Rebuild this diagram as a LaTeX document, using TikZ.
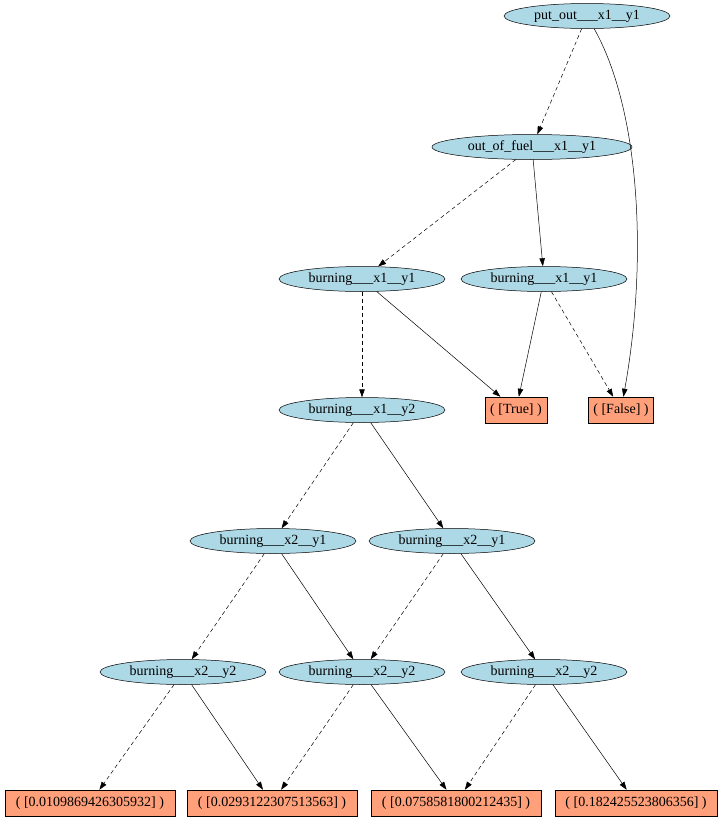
\documentclass[tikz,border=0pt]{standalone}
\usepackage{fontspec}
\setmainfont{Liberation Serif}
\usepackage{xcolor}
\definecolor{varfill}{HTML}{ADD8E6}
\definecolor{leaffill}{HTML}{FFA07A}
\usepackage{tikz}
\usetikzlibrary{shapes.geometric,arrows.meta}

\begin{document}
\begin{tikzpicture}[
  x=1pt, y=1pt,
  var/.style={
    ellipse, draw=black, fill=varfill, line width=0.5pt,
    font=\fontsize{14}{16}\selectfont, inner xsep=0pt, inner ysep=0pt,
    minimum width=166pt, minimum height=25pt
  },
  leaf/.style={
    rectangle, draw=black, fill=leaffill, line width=0.5pt,
    font=\fontsize{14}{16}\selectfont, inner xsep=5pt, inner ysep=0pt,
    minimum height=26pt
  },
  hi/.style={-{Triangle[length=8pt,width=5.5pt]}, black, line width=0.5pt},
  lo/.style={hi, dash pattern=on 4pt off 3pt}
]
\useasboundingbox (0,0) rectangle (720,-820);

% Variable nodes
\node[var] (po) at (587,-16) {put\_out\_\_\_x1\_\_y1};
\node[var, minimum width=200pt] (oof) at (532,-147) {out\_of\_fuel\_\_\_x1\_\_y1};
\node[var] (b11a) at (362,-279) {burning\_\_\_x1\_\_y1};
\node[var] (b11b) at (544,-279) {burning\_\_\_x1\_\_y1};
\node[var] (b12) at (362,-410) {burning\_\_\_x1\_\_y2};
\node[var] (b21a) at (273,-541) {burning\_\_\_x2\_\_y1};
\node[var] (b21b) at (452,-541) {burning\_\_\_x2\_\_y1};
\node[var] (b22a) at (183,-672) {burning\_\_\_x2\_\_y2};
\node[var] (b22b) at (362,-672) {burning\_\_\_x2\_\_y2};
\node[var] (b22c) at (544,-672) {burning\_\_\_x2\_\_y2};

% Terminal nodes
\node[leaf] (vtrue) at (516,-410) {( [True] )};
\node[leaf] (vfalse) at (621,-410) {( [False] )};
\node[leaf, minimum width=170pt] (v1) at (90,-803) {( [0.0109869426305932] )};
\node[leaf, minimum width=170pt] (v2) at (272,-803) {( [0.0293122307513563] )};
\node[leaf, minimum width=170pt] (v3) at (456,-803) {( [0.0758581800212435] )};
\node[leaf, minimum width=162pt] (v4) at (636,-803) {( [0.182425523806356] )};

% Low edges
\foreach \a/\b in {po/oof, oof/b11a, b11a/b12, b11b/vfalse, b12/b21a,
                   b21a/b22a, b21b/b22b, b22a/v1, b22b/v2, b22c/v3}
  \draw[lo] (\a) -- (\b);

% High edges
\foreach \a/\b in {oof/b11b, b11a/vtrue, b11b/vtrue, b12/b21b,
                   b21a/b22b, b21b/b22c, b22a/v2, b22b/v3, b22c/v4}
  \draw[hi] (\a) -- (\b);
\draw[hi] (po) .. controls (640,-110) and (648,-260) .. (vfalse);
\end{tikzpicture}
\end{document}
